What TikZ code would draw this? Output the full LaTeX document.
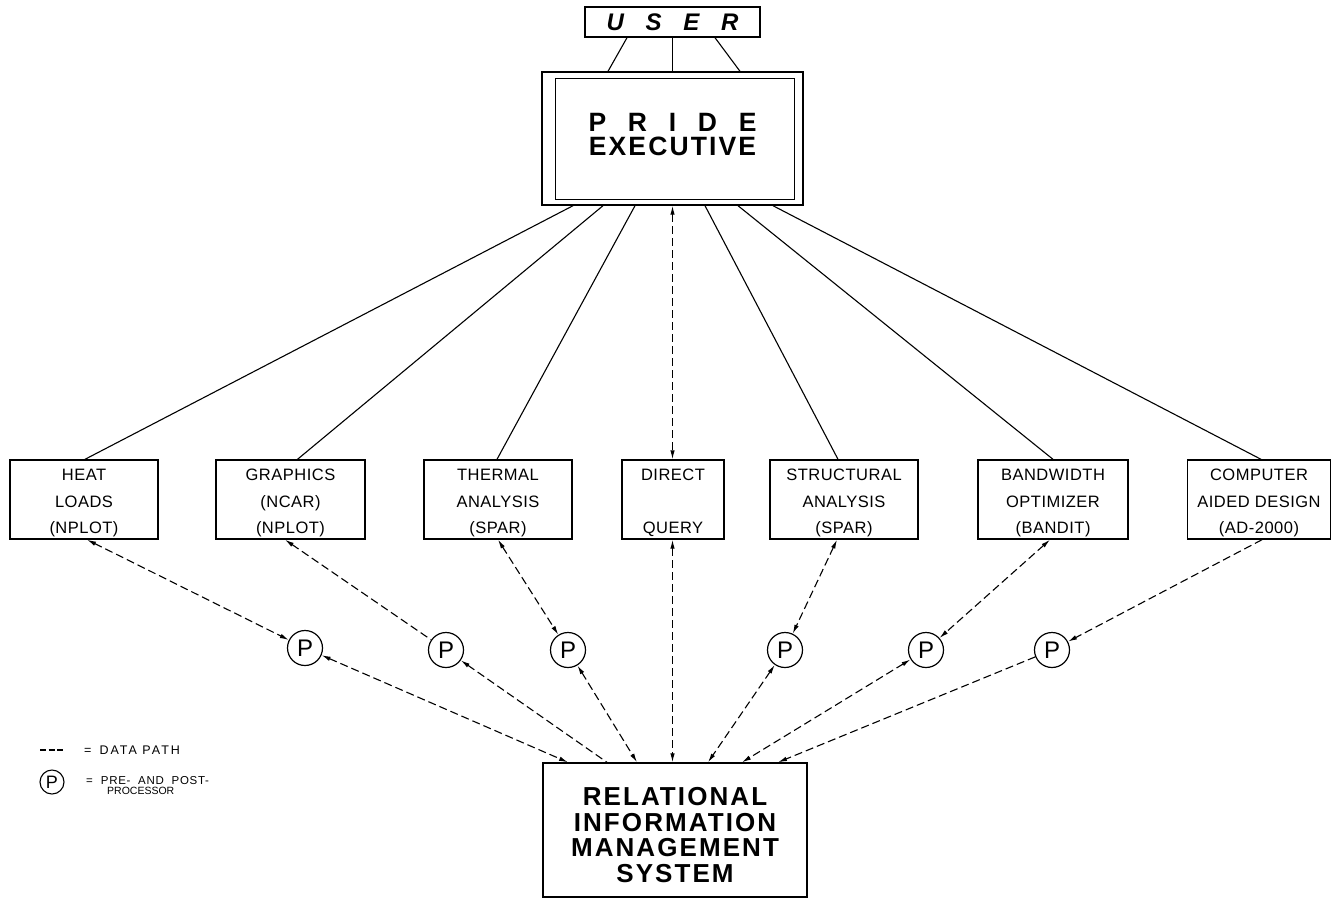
\documentclass[tikz,border=0pt]{standalone}
\usepackage{fontspec}
\setmainfont{Liberation Sans}
\newfontfamily\boxfont[LetterSpace=3]{Liberation Sans}
\newfontfamily\bigfont[LetterSpace=8]{Liberation Sans}
\newfontfamily\legfont[LetterSpace=16]{Liberation Sans}
\newfontfamily\legfontb[LetterSpace=6]{Liberation Sans}
\newcommand\topstrut[1]{\rule{0pt}{#1}}
\newcommand\botstrut[1]{\rule[-#1]{0pt}{#1}}
\usetikzlibrary{arrows.meta,calc}
\begin{document}
\begin{tikzpicture}[x=1pt,y=-1pt,
  >={Latex[length=9pt,width=4.5pt]},
  frame/.style={draw, line width=1.4pt, inner sep=0pt, align=center},
  modbox/.style={frame, minimum height=79pt,
    font=\boxfont\fontsize{16.5}{26.5}\selectfont},
  pcirc/.style={circle, draw, line width=1.2pt, minimum size=35pt, inner sep=0pt,
    font=\fontsize{24}{24}\selectfont},
  solidlink/.style={line width=1.1pt},
  dpath/.style={line width=1.1pt, dash pattern=on 8pt off 4pt}]
\useasboundingbox (0,0) rectangle (1332,898);

% top
\node[frame, minimum width=175pt, minimum height=30pt,
  font=\bfseries\itshape\fontsize{24}{24}\selectfont] (user) at (672.5,22)
  {\makebox[132pt][s]{U\hfill S\hfill E\hfill R}};
\node[frame, minimum width=261pt, minimum height=133pt,
  font=\bigfont\bfseries\fontsize{26.5}{24.5}\selectfont] (pride) at (672.5,138.5)
  {\makebox[168pt][s]{P\hfill R\hfill I\hfill D\hfill E}\\EXECUTIVE\botstrut{8pt}};
\draw[line width=1.4pt] ([shift={(14,7)}]pride.north west) rectangle ([shift={(-9,-6)}]pride.south east);

\draw[solidlink] ([xshift=-45.5pt]user.south) -- ([xshift=-64.5pt]pride.north);
\draw[solidlink] (user.south) -- (pride.north);
\draw[solidlink] ([xshift=42.5pt]user.south) -- ([xshift=67.5pt]pride.north);

% modules
\node[modbox, minimum width=148pt] (heat) at (84,499.5) {\topstrut{19pt}HEAT\\LOADS\\(NPLOT)};
\node[modbox, minimum width=149pt] (graph) at (290.5,499.5) {\topstrut{19pt}GRAPHICS\\(NCAR)\\(NPLOT)};
\node[modbox, minimum width=148pt] (therm) at (498,499.5) {\topstrut{19pt}THERMAL\\ANALYSIS\\(SPAR)};
\node[modbox, minimum width=102pt] (direct) at (673,499.5) {\topstrut{19pt}DIRECT\\\mbox{}\\QUERY};
\node[modbox, minimum width=148pt] (struct) at (844,499.5) {\topstrut{19pt}STRUCTURAL\\ANALYSIS\\(SPAR)};
\node[modbox, minimum width=150pt] (band) at (1053,499.5) {\topstrut{19pt}BANDWIDTH\\OPTIMIZER\\(BANDIT)};
\node[modbox, minimum width=143pt] (cad) at (1259,499.5) {\topstrut{19pt}COMPUTER\\AIDED DESIGN\\(AD-2000)};

% executive to modules
\draw[solidlink] ([xshift=-99.5pt]pride.south) -- ([xshift=1pt]heat.north);
\draw[solidlink] ([xshift=-69.5pt]pride.south) -- ([xshift=7pt]graph.north);
\draw[solidlink] ([xshift=-37.5pt]pride.south) -- ([xshift=-1pt]therm.north);
\draw[dpath,<->] (pride.south) -- (pride.south |- direct.north);
\draw[solidlink] ([xshift=32.5pt]pride.south) -- ([xshift=-6pt]struct.north);
\draw[solidlink] ([xshift=65.5pt]pride.south) -- (band.north);
\draw[solidlink] ([xshift=100.5pt]pride.south) -- ([xshift=2pt]cad.north);

% processors
\node[pcirc] (p1) at (305,648) {P};
\node[pcirc] (p2) at (446,650) {P};
\node[pcirc] (p3) at (568,650) {P};
\node[pcirc] (p4) at (785,650) {P};
\node[pcirc] (p5) at (926,650) {P};
\node[pcirc] (p6) at (1052,650) {P};

% RIMS
\node[frame, minimum width=264pt, minimum height=134pt,
  font=\bigfont\bfseries\fontsize{26}{25.7}\selectfont] (rims) at (675,830)
  {\topstrut{28pt}RELATIONAL\\INFORMATION\\MANAGEMENT\\SYSTEM};

% modules to processors
\draw[dpath,<->] ([xshift=3pt]heat.south) -- (p1);
\draw[dpath,<-] ([xshift=-5.5pt]graph.south) -- (p2);
\draw[dpath,<->] (therm.south) -- (p3);
\draw[dpath,<->] ([xshift=-7pt]struct.south) -- (p4);
\draw[dpath,<->] ([xshift=-3pt]band.south) -- (p5);
\draw[dpath,->] ([xshift=3pt]cad.south) -- (p6);

% processors to RIMS
\draw[dpath,<->] (p1) -- ([xshift=-107pt]rims.north);
\draw[dpath,<-] (p2) -- ([xshift=-68pt]rims.north);
\draw[dpath,<->] (p3) -- ([xshift=-38pt]rims.north);
\draw[dpath,<->] (pride.south |- direct.south) -- (pride.south |- rims.north);
\draw[dpath,<->] (p4) -- ([xshift=33pt]rims.north);
\draw[dpath,<->] (p5) -- ([xshift=67pt]rims.north);
\draw[dpath,->] (p6) -- ([xshift=103pt]rims.north);

% legend
\coordinate (lgA) at (40,750);
\coordinate (lgB) at (63,750);
\draw[line width=1.1pt, dash pattern=on 6pt off 2.5pt] (lgA) -- (lgB);
\node[anchor=west, inner sep=0pt, font=\legfont\fontsize{12.5}{12.5}\selectfont] (lgdata) at (84,750) {=\hspace{8pt}DATA PATH};
\node[circle, draw, line width=1.1pt, minimum size=24pt, inner sep=0pt,
  font=\fontsize{18}{18}\selectfont] (lgP) at (52,782) {P};
\node[anchor=west, inner sep=0pt, font=\legfontb\fontsize{11.5}{11.5}\selectfont] (lgpre) at (86,781) {=\hspace{8pt}PRE-\ \ AND\ \ POST-};
\node[anchor=west, inner sep=0pt, font=\fontsize{10.5}{10.5}\selectfont] (lgproc) at (107,791) {PROCESSOR};
\end{tikzpicture}
\end{document}
